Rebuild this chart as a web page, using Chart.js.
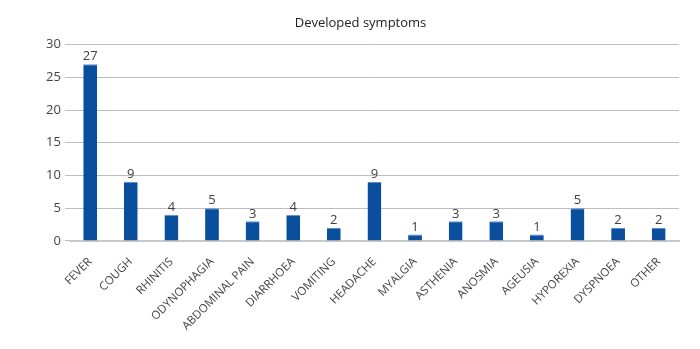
<!DOCTYPE html>
<html>
<head>
<meta charset="utf-8">
<script src="https://cdn.jsdelivr.net/npm/chart.js@4/dist/chart.umd.min.js"></script>
<style>
  html, body { margin: 0; padding: 0; background: #fff; }
  #wrap { width: 700px; height: 349px; }
</style>
</head>
<body>
<div id="wrap"><canvas id="chart-symptoms"></canvas></div>
<script>
/* ── DATA ── */
const symptoms = ['FEVER','COUGH','RHINITIS','ODYNOPHAGIA','ABDOMINAL PAIN','DIARRHOEA','VOMITING',
  'HEADACHE','MYALGIA','ASTHENIA','ANOSMIA','AGEUSIA','HYPOREXIA','DYSPNOEA','OTHER'];
const patientCounts = [27, 9, 4, 5, 3, 4, 2, 9, 1, 3, 3, 1, 5, 2, 2];
const yTicks = [0, 5, 10, 15, 20, 25, 30];

const FONT = "'Open Sans', sans-serif";

/* ── VALUE LABELS above each bar ── */
const valueLabels = {
  id: 'valueLabels',
  afterDatasetsDraw(chart) {
    const { ctx } = chart;
    const meta = chart.getDatasetMeta(0);
    ctx.save();
    ctx.font = `13px ${FONT}`;
    ctx.fillStyle = '#404040';
    ctx.textAlign = 'center';
    ctx.textBaseline = 'bottom';
    meta.data.forEach((bar, i) => {
      ctx.fillText(patientCounts[i], bar.x, bar.y - 1);
    });
    ctx.restore();
  }
};

new Chart(document.getElementById('chart-symptoms'), {
  type: 'bar',
  data: {
    labels: symptoms,
    datasets: [{
      data: patientCounts,
      backgroundColor: '#0a4f9e',
      borderColor: '#5b8fd0',
      borderWidth: { top: 1, left: 0, right: 0, bottom: 0 },
      borderSkipped: false,
      categoryPercentage: 1,
      barPercentage: 0.34
    }]
  },
  options: {
    responsive: true,
    maintainAspectRatio: false,
    animation: false,
    layout: { padding: { left: 42, right: 21, top: 6, bottom: 10 } },
    plugins: {
      legend: { display: false },
      tooltip: { enabled: false },
      title: {
        display: true,
        text: 'Developed symptoms',
        color: '#222',
        font: { size: 13, family: FONT, weight: 'normal' },
        padding: { top: 9, bottom: 14 }
      }
    },
    scales: {
      x: {
        grid: { display: false },
        border: { color: '#c8c8c8', width: 2 },
        ticks: {
          color: '#444',
          font: { size: 11.5, family: FONT },
          minRotation: 45,
          maxRotation: 45,
          autoSkip: false,
          padding: 6
        }
      },
      y: {
        min: 0,
        max: 30,
        afterBuildTicks: axis => { axis.ticks = yTicks.map(v => ({ value: v })); },
        grid: { color: '#bdbdbd', lineWidth: 1, tickLength: 5 },
        border: { display: false },
        ticks: {
          color: '#444',
          font: { size: 13, family: FONT },
          padding: 4
        }
      }
    }
  },
  plugins: [valueLabels]
});
</script>
</body>
</html>
